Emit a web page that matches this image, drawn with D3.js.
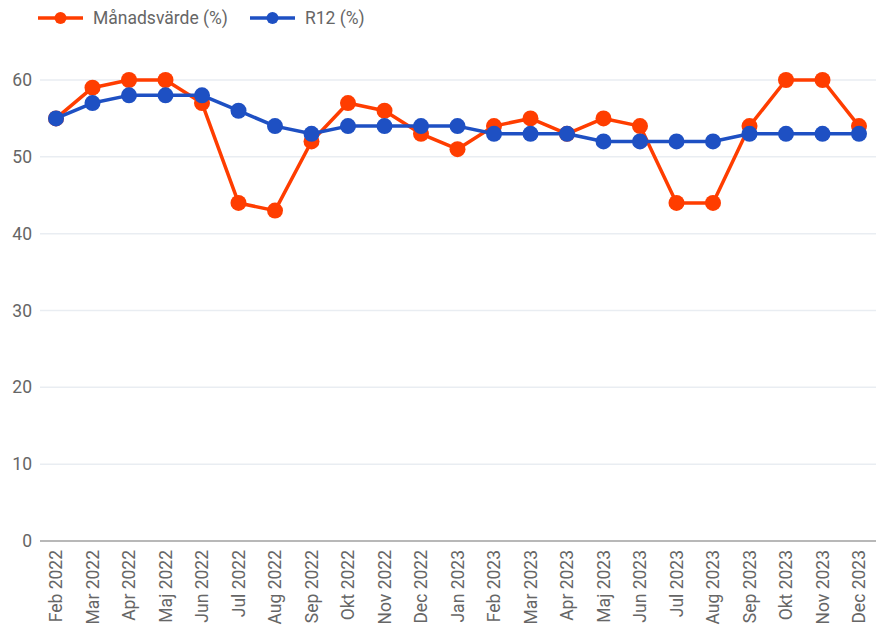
<!DOCTYPE html>
<html><head><meta charset="utf-8">
<script src="https://cdn.jsdelivr.net/npm/d3@7"></script>
<style>body{margin:0;background:#fff;}svg{display:block;font-family:Roboto,sans-serif;}</style>
</head><body>
<svg id="c" width="876" height="628"></svg>
<script>
const categories = ["Feb 2022","Mar 2022","Apr 2022","Maj 2022","Jun 2022","Jul 2022","Aug 2022","Sep 2022","Okt 2022","Nov 2022","Dec 2022","Jan 2023","Feb 2023","Mar 2023","Apr 2023","Maj 2023","Jun 2023","Jul 2023","Aug 2023","Sep 2023","Okt 2023","Nov 2023","Dec 2023"];
const manadsvarde = [55,59,60,60,57,44,43,52,57,56,53,51,54,55,53,55,54,44,44,54,60,60,54];
const r12 = [55,57,58,58,58,56,54,53,54,54,54,54,53,53,53,52,52,52,52,53,53,53,53];
const yTicks = [0,10,20,30,40,50,60];
const seriesNames = ["Månadsvärde (%)","R12 (%)"];
const colors = ["#ff3d00","#1e50c3"];

const svg = d3.select("#c");
const x = d3.scalePoint().domain(categories).range([56,859]);
const y = d3.scaleLinear().domain([0,60]).range([541,80]);
const left = 40, right = 876;
const fs = 17.5;

// gridlines
svg.append("g").selectAll("line").data(yTicks.filter(d=>d>0)).join("line")
  .attr("x1",left).attr("x2",right).attr("y1",d=>y(d)).attr("y2",d=>y(d))
  .attr("stroke","#e9edf2").attr("stroke-width",1.5);
svg.append("line").attr("x1",left).attr("x2",right).attr("y1",y(0)).attr("y2",y(0))
  .attr("stroke","#b8b8b8").attr("stroke-width",2);

// y labels
svg.append("g").selectAll("text").data(yTicks).join("text")
  .attr("x",32).attr("y",d=>y(d)).attr("dy","0.35em").attr("text-anchor","end")
  .attr("fill","#666").attr("font-size",fs).text(d=>d);

// x labels
svg.append("g").selectAll("text").data(categories).join("text")
  .attr("transform",d=>`translate(${x(d)+6},550) rotate(-90)`)
  .attr("text-anchor","end").attr("fill","#666").attr("font-size",fs).text(d=>d);

const line = d3.line().x((d,i)=>x(categories[i])).y(d=>y(d));
[manadsvarde, r12].forEach((s,k)=>{
  const g = svg.append("g");
  g.append("path").attr("d",line(s)).attr("fill","none").attr("stroke",colors[k]).attr("stroke-width",3.5).attr("stroke-linejoin","round");
  g.selectAll("circle").data(s).join("circle").attr("cx",(d,i)=>x(categories[i])).attr("cy",d=>y(d)).attr("r",8).attr("fill",colors[k]);
});

// legend
const lx = [38,250];
seriesNames.forEach((n,k)=>{
  const g = svg.append("g").attr("transform",`translate(${lx[k]},18)`);
  g.append("line").attr("x1",0).attr("x2",45).attr("stroke",colors[k]).attr("stroke-width",3.5);
  g.append("circle").attr("cx",22.5).attr("r",6).attr("fill",colors[k]);
  g.append("text").attr("x",55).attr("dy","0.35em").attr("fill","#666").attr("font-size",fs).text(n);
});
</script>
</body></html>
